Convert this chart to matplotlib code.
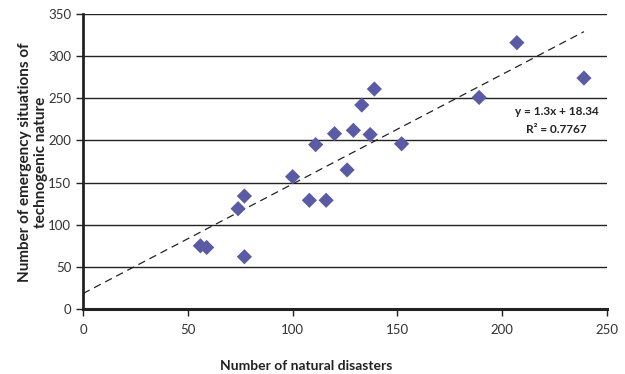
import matplotlib
matplotlib.use("Agg")
import matplotlib.pyplot as plt
import numpy as np

natural = [56, 59, 77, 74, 77, 100, 108, 111, 116, 120, 126, 129, 133, 137, 139, 152, 189, 207, 239]
technogenic = [75, 73, 62, 119, 134, 157, 129, 195, 129, 208, 165, 212, 242, 207, 261, 196, 251, 316, 274]
slope = 1.3
intercept = 18.34
r2_text = "R² = 0.7767"
eq_text = "y = 1.3x + 18.34"
xticks = [0, 50, 100, 150, 200, 250]
yticks = [0, 50, 100, 150, 200, 250, 300, 350]

plt.rcParams['font.family'] = ['Lato', 'DejaVu Sans']

fig = plt.figure(figsize=(6.25, 3.74), dpi=100)
ax = fig.add_axes([83/625, 1-309/374, (607-83)/625, (309-14)/374])

ax.set_xlim(0, 250)
ax.set_ylim(0, 350)
ax.set_xticks(xticks)
ax.set_yticks(yticks)
ax.set_axisbelow(True)
ax.yaxis.grid(True, color='#222222', linewidth=1.0)
ax.xaxis.grid(False)

for s in ['top', 'right']:
    ax.spines[s].set_visible(False)
ax.spines['left'].set_linewidth(2.0)
ax.spines['bottom'].set_linewidth(2.2)
ax.spines['left'].set_color('#222222')
ax.spines['bottom'].set_color('#222222')

ax.tick_params(axis='both', direction='out', length=5, width=1, color='#222222',
               labelsize=9.5, labelcolor='#333333')
ax.tick_params(axis='x', pad=6)

xs = np.array([0, max(natural)])
ax.plot(xs, slope * xs + intercept, linestyle=(0, (6, 4)), color='#222222', linewidth=0.9, zorder=2)

ax.scatter(natural, technogenic, marker='D', s=60, color='#5B5BA3', edgecolors='none', zorder=3)

ax.text(226, 234, eq_text, ha='center', va='center', fontsize=8.5, fontweight='bold', color='#222222')
ax.text(226, 213, r2_text, ha='center', va='center', fontsize=8.5, fontweight='bold', color='#222222')

fig.text(306/625, 1-366/374, "Number of natural disasters", ha='center', va='center',
         fontsize=10, fontweight='bold', color='#222222')
fig.text(33/625, 1-162/374, "Number of emergency situations of\ntechnogenic nature", ha='center', va='center',
         rotation=90, fontsize=11, fontweight='bold', color='#222222', linespacing=1.2)

fig.savefig("out.png", dpi=100)
